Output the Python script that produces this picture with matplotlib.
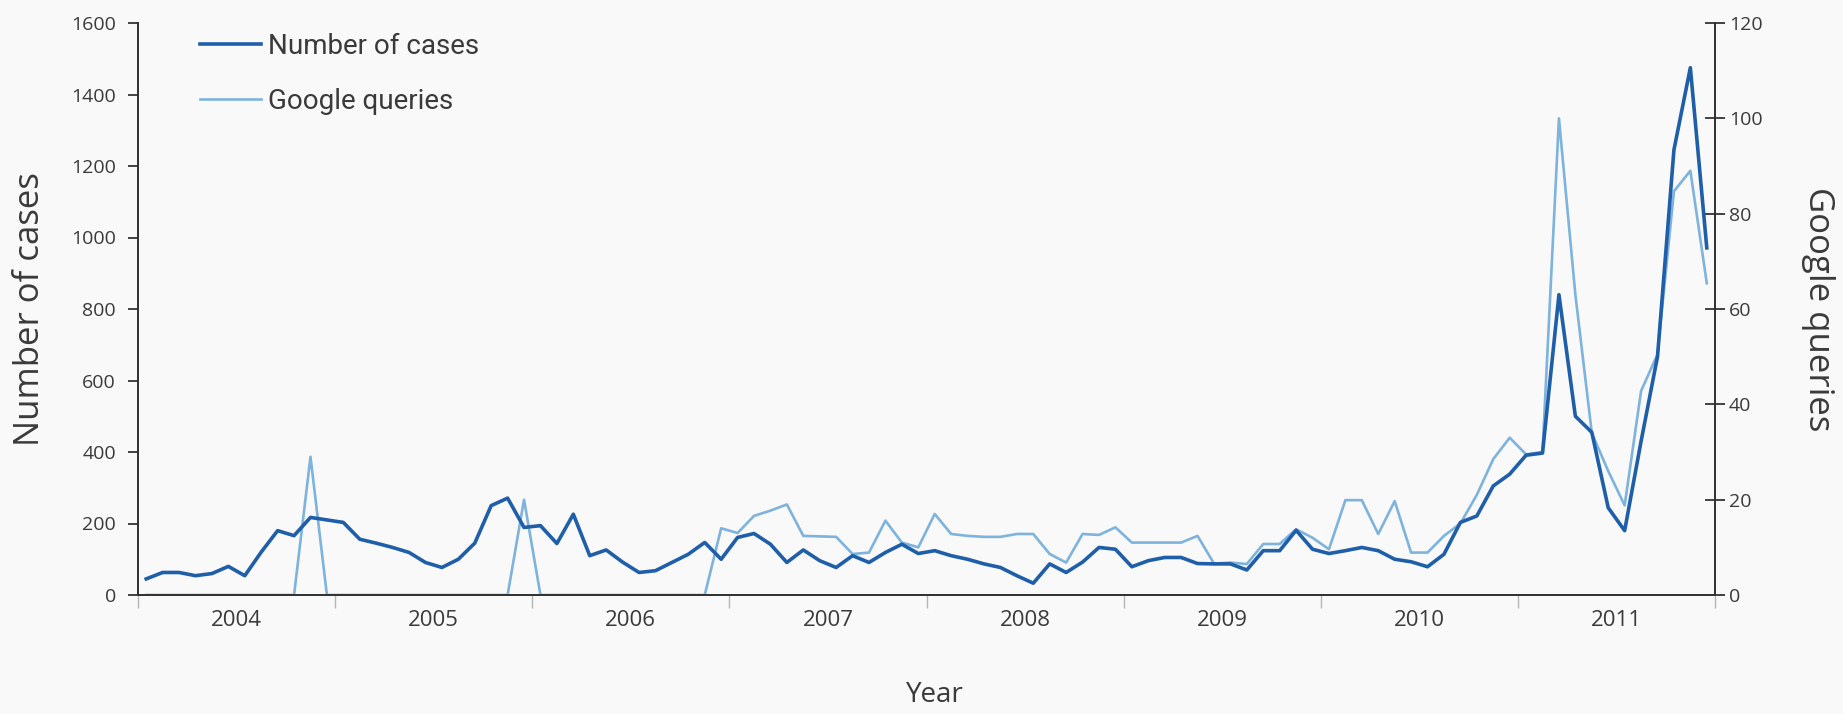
import matplotlib.pyplot as plt
import numpy as np

# monthly values, Jan 2004 .. Dec 2011
years = ['2004', '2005', '2006', '2007', '2008', '2009', '2010', '2011']

cases = [45, 63, 63, 54, 60, 80, 54, 120, 180, 166, 217, 210,
         203, 156, 145, 133, 119, 91, 77, 100, 145, 250, 271, 189,
         194, 144, 226, 110, 126, 92, 63, 68, 91, 114, 147, 100,
         161, 172, 142, 91, 126, 96, 77, 110, 91, 119, 142, 116,
         124, 110, 100, 87, 77, 54, 33, 87, 63, 92, 133, 128,
         79, 96, 105, 105, 88, 87, 87, 70, 124, 124, 181, 128,
         116, 124, 133, 124, 100, 93, 79, 114, 203, 221, 305, 338,
         391, 397, 840, 500, 455, 244, 180, 430, 667, 1245, 1475, 971]

google = [0, 0, 0, 0, 0, 0, 0, 0, 0, 0, 29, 0,
          0, 0, 0, 0, 0, 0, 0, 0, 0, 0, 0, 20,
          0, 0, 0, 0, 0, 0, 0, 0, 0, 0, 0, 14,
          13, 16.6, 17.7, 19, 12.4, 12.3, 12.2, 8.6, 8.9, 15.6, 11, 10,
          17, 12.8, 12.4, 12.2, 12.2, 12.8, 12.8, 8.6, 6.8, 12.8, 12.6, 14.2,
          11, 11, 11, 11, 12.4, 6.6, 6.8, 6.5, 10.7, 10.7, 13.8, 12,
          9.6, 19.9, 19.9, 12.8, 19.7, 8.9, 8.9, 12.4, 15, 21, 28.5, 33,
          29.5, 30, 100, 63, 34, 26, 18.8, 42.8, 50.5, 84.7, 89, 65.4]

dark = '#1f5ea8'
light = '#7db3dc'
txt = '#3a3a3a'
bg = '#f9f9f9'

plt.rcParams['font.family'] = ['Open Sans', 'DejaVu Sans']

x = np.arange(len(cases)) + 0.5

fig = plt.figure(figsize=(18.43, 7.14), dpi=100, facecolor=bg)
ax = fig.add_axes([138 / 1843, 1 - 595 / 714, 1577 / 1843, 572 / 714])
ax2 = ax.twinx()

ax2.plot(x, google, color=light, lw=1.9, label='Google queries')
ax.plot(x, cases, color=dark, lw=2.6, label='Number of cases')

# cases line drawn on top of the queries line
ax.set_zorder(ax2.get_zorder() + 1)
ax.patch.set_visible(False)
ax2.patch.set_facecolor(bg)

ax.set_xlim(0, 96)
ax.set_ylim(0, 1600)
ax2.set_ylim(0, 120)

for a in (ax, ax2):
    a.spines['top'].set_visible(False)
    for s in ('left', 'right', 'bottom'):
        a.spines[s].set_color('#333333')
        a.spines[s].set_linewidth(1.3)

ax.set_yticks(np.arange(0, 1601, 200))
ax2.set_yticks(np.arange(0, 121, 20))
ax.tick_params(axis='y', direction='out', length=7, width=1.3, color='#333333',
               labelsize=14, labelcolor=txt, pad=9)
ax2.tick_params(axis='y', direction='inout', length=14, width=1.3, color='#333333',
                labelsize=14, labelcolor=txt, pad=3)

# year boundaries as ticks, year names centred
ax.set_xticks(np.arange(0, 97, 12))
ax.set_xticklabels([])
ax.set_xticks(np.arange(6, 96, 12), minor=True)
ax.set_xticklabels(years, minor=True)
ax.tick_params(axis='x', which='major', direction='out', length=9, width=1.0, color='#b5b5b5')
ax.tick_params(axis='x', which='minor', length=0, labelsize=16, labelcolor=txt, pad=11)

ax.set_ylabel('Number of cases', fontsize=25, color=txt)
ax.yaxis.set_label_coords(-0.058, 0.5)
ax2.set_ylabel('Google queries', fontsize=25, color=txt, rotation=270)
ax2.yaxis.set_label_coords(1.076, 0.5)
ax.set_xlabel('Year', fontsize=20, color=txt)
ax.xaxis.set_label_coords(0.505, -0.150)

h1, l1 = ax.get_legend_handles_labels()
h2, l2 = ax2.get_legend_handles_labels()
leg = ax.legend(h1 + h2, l1 + l2, loc='upper left', bbox_to_anchor=(200 / 1843, 0.954),
                bbox_transform=fig.transFigure, frameon=False, borderpad=0, borderaxespad=0,
                handlelength=2.2, handletextpad=0.25, labelspacing=1.0,
                prop={'family': ['Roboto', 'DejaVu Sans'], 'size': 20})
for t in leg.get_texts():
    t.set_color(txt)

fig.savefig('out.png', dpi=100, facecolor=bg)
